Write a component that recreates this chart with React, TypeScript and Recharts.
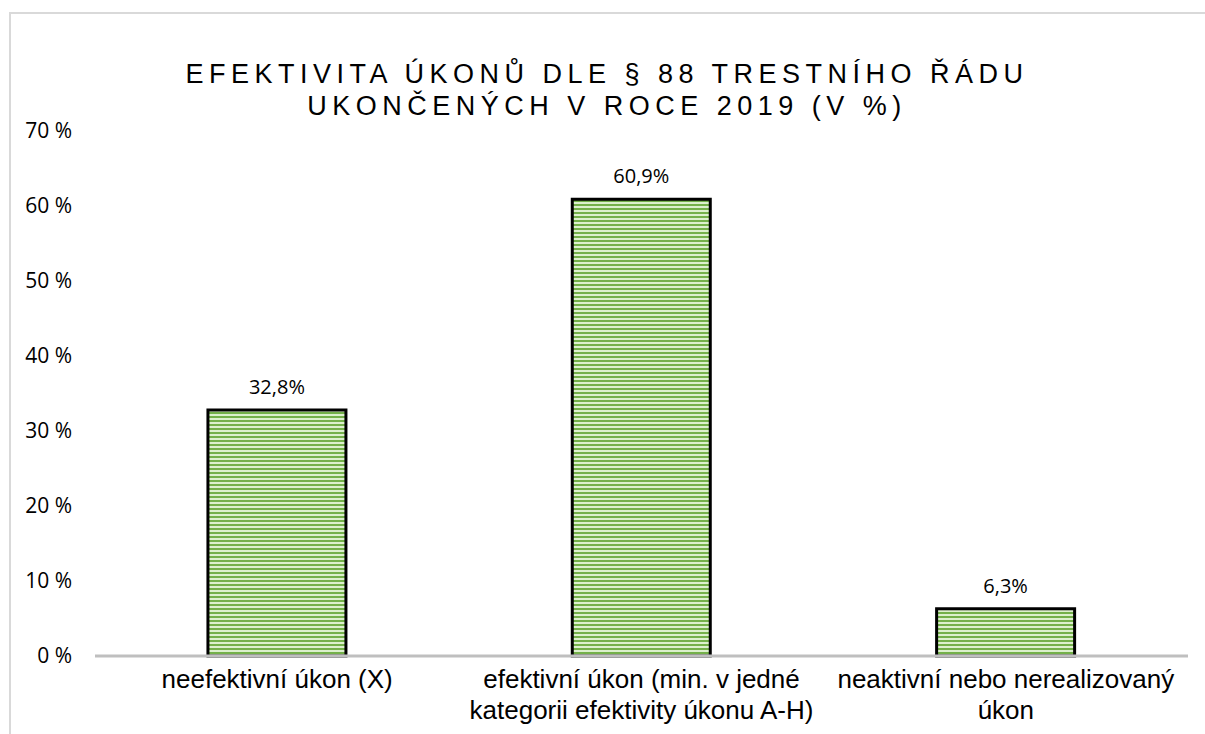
import React from 'react'
import { BarChart, Bar, XAxis, YAxis, LabelList } from 'recharts'

// kategorie (zalomení řádku přes \n)
const categories = [
  'neefektivní úkon (X)',
  'efektivní úkon (min. v jedné\nkategorii efektivity úkonu A-H)',
  'neaktivní nebo nerealizovaný\núkon',
]
const shares = [32.8, 60.9, 6.3]
const yTicks = [0, 10, 20, 30, 40, 50, 60, 70]
const titleLines = ['EFEKTIVITA ÚKONŮ DLE § 88 TRESTNÍHO ŘÁDU', 'UKONČENÝCH V ROCE 2019 (V %)']

const data = categories.map((name, i) => ({ name, value: shares[i] }))

const CategoryTick = ({ x, y, payload }: any) => {
  const lines = String(payload.value).split('\n')
  return (
    <text
      x={x}
      y={y}
      textAnchor="middle"
      fill="#000"
      style={{ fontFamily: '"Liberation Sans", Arial, sans-serif', fontSize: 26 }}
    >
      {lines.map((line, i) => (
        <tspan key={i} x={x} dy={i === 0 ? 30 : 31}>
          {line}
        </tspan>
      ))}
    </text>
  )
}

export default function App() {
  return (
    <div style={{ position: 'absolute', left: 9, top: 12, width: 1196, height: 722 }}>
      <div
        style={{
          position: 'absolute',
          left: 0,
          top: 0,
          right: 0,
          bottom: 0,
          borderTop: '2px solid #d9d9d9',
          borderLeft: '2px solid #d9d9d9',
        }}
      />
      <svg width={0} height={0} style={{ position: 'absolute' }}>
        <defs>
          <pattern id="stripes" width={8} height={4} patternUnits="userSpaceOnUse">
            <rect width={8} height={4} fill="#dcf0cd" />
            <rect width={8} height={2} fill="#74b04a" />
          </pattern>
        </defs>
      </svg>
      <div
        style={{
          position: 'absolute',
          left: 0,
          right: 0,
          top: 46,
          textAlign: 'center',
          fontFamily: '"Liberation Sans", Arial, sans-serif',
          fontSize: 27,
          letterSpacing: 5.5,
          lineHeight: '32px',
          color: '#000',
        }}
      >
        {titleLines.map((t, i) => (
          <div key={i}>{t}</div>
        ))}
      </div>
      <BarChart
        width={1196}
        height={722}
        data={data}
        margin={{ top: 119, right: 17, left: 0, bottom: 0 }}
        barCategoryGap="31%"
        style={{ position: 'absolute', left: 0, top: 0 }}
      >
        <XAxis
          dataKey="name"
          height={78}
          tickLine={false}
          tickSize={0}
          axisLine={{ stroke: '#bfbfbf', strokeWidth: 3 }}
          tick={<CategoryTick />}
          interval={0}
        />
        <YAxis
          width={86}
          domain={[0, 70]}
          ticks={yTicks}
          axisLine={false}
          tickLine={false}
          tickSize={0}
          tickMargin={23}
          tickFormatter={(v: number) => `${v} %`}
          tick={{ fill: '#000', fontSize: 21, fontFamily: '"Open Sans", sans-serif' }}
        />
        <Bar
          dataKey="value"
          fill="url(#stripes)"
          stroke="#000"
          strokeWidth={3}
          isAnimationActive={false}
        >
          <LabelList
            dataKey="value"
            position="top"
            offset={16}
            formatter={(v: any) => `${String(v).replace('.', ',')}%`}
            style={{ fill: '#000', fontSize: 20, fontFamily: '"Open Sans", sans-serif' }}
          />
        </Bar>
      </BarChart>
    </div>
  )
}
